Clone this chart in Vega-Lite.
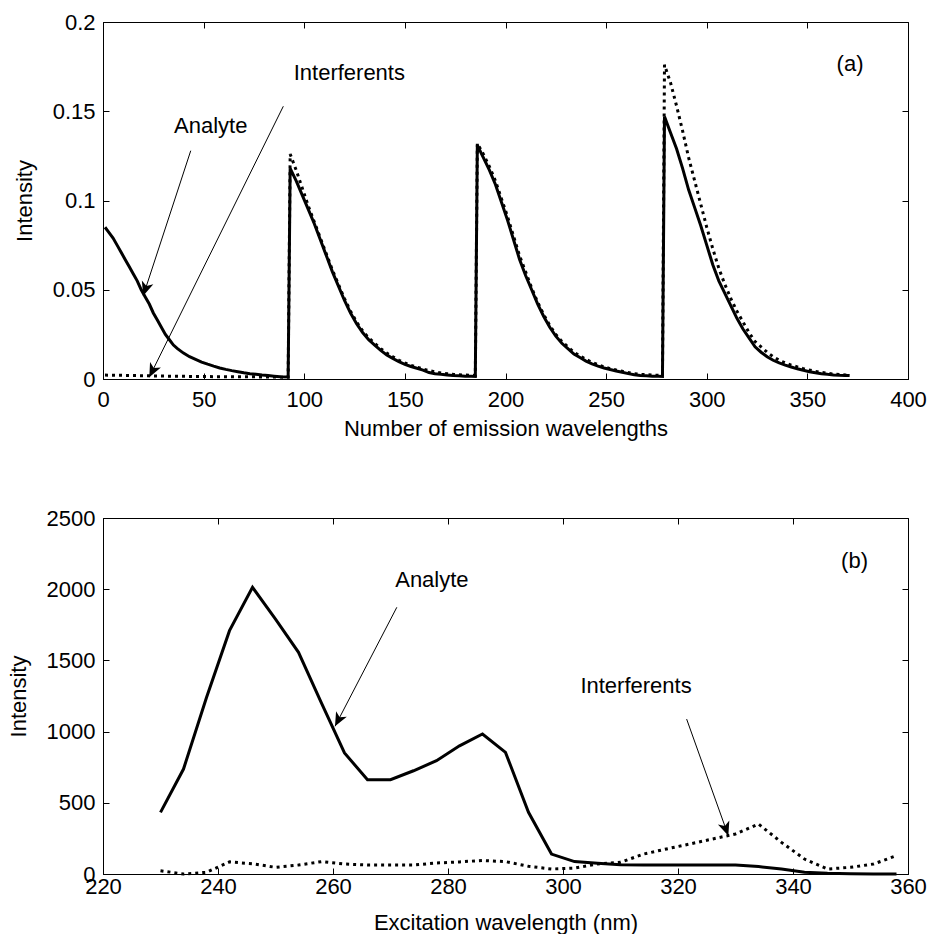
{
  "$schema": "https://vega.github.io/schema/vega-lite/v6.json",
  "padding": {"left": 6, "top": 10, "right": 5, "bottom": 0},
  "background": "white",
  "config": {
    "font": "Liberation Sans",
    "view": {"stroke": "black", "strokeWidth": 1},
    "axis": {
      "grid": false, "domainColor": "black", "domainWidth": 1, "tickColor": "black", "tickSize": -6, "tickWidth": 1,
      "labelFont": "Liberation Sans", "labelFontSize": 22, "labelColor": "black",
      "titleFont": "Liberation Sans", "titleFontSize": 22, "titleFontWeight": "normal", "titleColor": "black",
      "labelOverlap": false
    }
  },
  "datasets": {
    "a": [
      {"n":1,"v":0.085,"s":"Analyte"},{"n":3,"v":0.082,"s":"Analyte"},{"n":5,"v":0.079,"s":"Analyte"},{"n":7,"v":0.075,"s":"Analyte"},{"n":9,"v":0.071,"s":"Analyte"},{"n":11,"v":0.067,"s":"Analyte"},{"n":13,"v":0.063,"s":"Analyte"},{"n":15,"v":0.059,"s":"Analyte"},{"n":17,"v":0.055,"s":"Analyte"},{"n":19,"v":0.05,"s":"Analyte"},{"n":21,"v":0.046,"s":"Analyte"},{"n":23,"v":0.042,"s":"Analyte"},{"n":25,"v":0.037,"s":"Analyte"},{"n":27,"v":0.033,"s":"Analyte"},{"n":29,"v":0.029,"s":"Analyte"},{"n":31,"v":0.025,"s":"Analyte"},{"n":33,"v":0.022,"s":"Analyte"},{"n":35,"v":0.019,"s":"Analyte"},{"n":37,"v":0.017,"s":"Analyte"},{"n":40,"v":0.0145,"s":"Analyte"},{"n":43,"v":0.0125,"s":"Analyte"},{"n":46,"v":0.011,"s":"Analyte"},{"n":49,"v":0.0095,"s":"Analyte"},{"n":52,"v":0.0083,"s":"Analyte"},{"n":55,"v":0.0072,"s":"Analyte"},{"n":58,"v":0.0062,"s":"Analyte"},{"n":61,"v":0.0054,"s":"Analyte"},{"n":64,"v":0.0047,"s":"Analyte"},{"n":67,"v":0.0041,"s":"Analyte"},{"n":70,"v":0.0035,"s":"Analyte"},{"n":73,"v":0.003,"s":"Analyte"},{"n":76,"v":0.0026,"s":"Analyte"},{"n":79,"v":0.0022,"s":"Analyte"},{"n":82,"v":0.0019,"s":"Analyte"},{"n":85,"v":0.0016,"s":"Analyte"},{"n":88,"v":0.0013,"s":"Analyte"},{"n":92,"v":0.0011,"s":"Analyte"},
      {"n":93,"v":0.118,"s":"Analyte"},{"n":96,"v":0.111,"s":"Analyte"},{"n":99,"v":0.103,"s":"Analyte"},{"n":102,"v":0.095,"s":"Analyte"},{"n":105,"v":0.087,"s":"Analyte"},{"n":108,"v":0.078,"s":"Analyte"},{"n":111,"v":0.069,"s":"Analyte"},{"n":114,"v":0.06,"s":"Analyte"},{"n":117,"v":0.052,"s":"Analyte"},{"n":120,"v":0.044,"s":"Analyte"},{"n":123,"v":0.037,"s":"Analyte"},{"n":126,"v":0.031,"s":"Analyte"},{"n":129,"v":0.026,"s":"Analyte"},{"n":132,"v":0.022,"s":"Analyte"},{"n":135,"v":0.019,"s":"Analyte"},{"n":138,"v":0.016,"s":"Analyte"},{"n":141,"v":0.0135,"s":"Analyte"},{"n":144,"v":0.0115,"s":"Analyte"},{"n":147,"v":0.0097,"s":"Analyte"},{"n":150,"v":0.0082,"s":"Analyte"},{"n":153,"v":0.007,"s":"Analyte"},{"n":156,"v":0.006,"s":"Analyte"},{"n":159,"v":0.005,"s":"Analyte"},{"n":162,"v":0.0036,"s":"Analyte"},{"n":165,"v":0.003,"s":"Analyte"},{"n":168,"v":0.0026,"s":"Analyte"},{"n":171,"v":0.0023,"s":"Analyte"},{"n":174,"v":0.002,"s":"Analyte"},{"n":177,"v":0.0018,"s":"Analyte"},{"n":180,"v":0.0016,"s":"Analyte"},{"n":183,"v":0.0015,"s":"Analyte"},{"n":185,"v":0.0014,"s":"Analyte"},
      {"n":186,"v":0.131,"s":"Analyte"},{"n":189,"v":0.124,"s":"Analyte"},{"n":192,"v":0.117,"s":"Analyte"},{"n":195,"v":0.109,"s":"Analyte"},{"n":198,"v":0.099,"s":"Analyte"},{"n":201,"v":0.089,"s":"Analyte"},{"n":204,"v":0.078,"s":"Analyte"},{"n":207,"v":0.067,"s":"Analyte"},{"n":210,"v":0.058,"s":"Analyte"},{"n":213,"v":0.05,"s":"Analyte"},{"n":216,"v":0.042,"s":"Analyte"},{"n":219,"v":0.035,"s":"Analyte"},{"n":222,"v":0.029,"s":"Analyte"},{"n":225,"v":0.024,"s":"Analyte"},{"n":228,"v":0.02,"s":"Analyte"},{"n":231,"v":0.017,"s":"Analyte"},{"n":234,"v":0.014,"s":"Analyte"},{"n":237,"v":0.012,"s":"Analyte"},{"n":240,"v":0.01,"s":"Analyte"},{"n":243,"v":0.0085,"s":"Analyte"},{"n":246,"v":0.0072,"s":"Analyte"},{"n":249,"v":0.0062,"s":"Analyte"},{"n":252,"v":0.0053,"s":"Analyte"},{"n":255,"v":0.0045,"s":"Analyte"},{"n":258,"v":0.0038,"s":"Analyte"},{"n":261,"v":0.003,"s":"Analyte"},{"n":264,"v":0.0024,"s":"Analyte"},{"n":267,"v":0.002,"s":"Analyte"},{"n":270,"v":0.0018,"s":"Analyte"},{"n":273,"v":0.0016,"s":"Analyte"},{"n":276,"v":0.0015,"s":"Analyte"},{"n":278,"v":0.0014,"s":"Analyte"},
      {"n":279,"v":0.147,"s":"Analyte"},{"n":282,"v":0.138,"s":"Analyte"},{"n":285,"v":0.129,"s":"Analyte"},{"n":288,"v":0.118,"s":"Analyte"},{"n":291,"v":0.106,"s":"Analyte"},{"n":294,"v":0.096,"s":"Analyte"},{"n":297,"v":0.086,"s":"Analyte"},{"n":300,"v":0.075,"s":"Analyte"},{"n":303,"v":0.064,"s":"Analyte"},{"n":306,"v":0.055,"s":"Analyte"},{"n":309,"v":0.048,"s":"Analyte"},{"n":312,"v":0.041,"s":"Analyte"},{"n":315,"v":0.034,"s":"Analyte"},{"n":318,"v":0.028,"s":"Analyte"},{"n":321,"v":0.023,"s":"Analyte"},{"n":324,"v":0.018,"s":"Analyte"},{"n":327,"v":0.015,"s":"Analyte"},{"n":330,"v":0.0125,"s":"Analyte"},{"n":333,"v":0.0105,"s":"Analyte"},{"n":336,"v":0.009,"s":"Analyte"},{"n":339,"v":0.0078,"s":"Analyte"},{"n":342,"v":0.0067,"s":"Analyte"},{"n":345,"v":0.0057,"s":"Analyte"},{"n":348,"v":0.0049,"s":"Analyte"},{"n":351,"v":0.0041,"s":"Analyte"},{"n":354,"v":0.0035,"s":"Analyte"},{"n":357,"v":0.003,"s":"Analyte"},{"n":360,"v":0.0026,"s":"Analyte"},{"n":363,"v":0.0023,"s":"Analyte"},{"n":366,"v":0.0021,"s":"Analyte"},{"n":369,"v":0.002,"s":"Analyte"},{"n":371,"v":0.0019,"s":"Analyte"},
      {"n":1,"v":0.0022,"s":"Interferents"},{"n":6,"v":0.0021,"s":"Interferents"},{"n":11,"v":0.002,"s":"Interferents"},{"n":16,"v":0.0019,"s":"Interferents"},{"n":21,"v":0.0018,"s":"Interferents"},{"n":26,"v":0.0017,"s":"Interferents"},{"n":31,"v":0.0016,"s":"Interferents"},{"n":36,"v":0.0015,"s":"Interferents"},{"n":41,"v":0.0015,"s":"Interferents"},{"n":46,"v":0.0014,"s":"Interferents"},{"n":51,"v":0.0014,"s":"Interferents"},{"n":56,"v":0.0013,"s":"Interferents"},{"n":61,"v":0.0013,"s":"Interferents"},{"n":66,"v":0.0012,"s":"Interferents"},{"n":71,"v":0.0012,"s":"Interferents"},{"n":76,"v":0.0012,"s":"Interferents"},{"n":81,"v":0.0011,"s":"Interferents"},{"n":86,"v":0.0011,"s":"Interferents"},{"n":92,"v":0.001,"s":"Interferents"},
      {"n":93,"v":0.126,"s":"Interferents"},{"n":96,"v":0.117,"s":"Interferents"},{"n":99,"v":0.107,"s":"Interferents"},{"n":102,"v":0.097,"s":"Interferents"},{"n":105,"v":0.088,"s":"Interferents"},{"n":108,"v":0.079,"s":"Interferents"},{"n":111,"v":0.07,"s":"Interferents"},{"n":114,"v":0.061,"s":"Interferents"},{"n":117,"v":0.053,"s":"Interferents"},{"n":120,"v":0.045,"s":"Interferents"},{"n":123,"v":0.038,"s":"Interferents"},{"n":126,"v":0.032,"s":"Interferents"},{"n":129,"v":0.027,"s":"Interferents"},{"n":132,"v":0.023,"s":"Interferents"},{"n":135,"v":0.02,"s":"Interferents"},{"n":138,"v":0.017,"s":"Interferents"},{"n":141,"v":0.0145,"s":"Interferents"},{"n":144,"v":0.0125,"s":"Interferents"},{"n":147,"v":0.0105,"s":"Interferents"},{"n":150,"v":0.009,"s":"Interferents"},{"n":153,"v":0.0077,"s":"Interferents"},{"n":156,"v":0.0066,"s":"Interferents"},{"n":159,"v":0.0056,"s":"Interferents"},{"n":162,"v":0.0047,"s":"Interferents"},{"n":165,"v":0.004,"s":"Interferents"},{"n":168,"v":0.0034,"s":"Interferents"},{"n":171,"v":0.003,"s":"Interferents"},{"n":174,"v":0.0026,"s":"Interferents"},{"n":177,"v":0.0024,"s":"Interferents"},{"n":180,"v":0.0022,"s":"Interferents"},{"n":183,"v":0.0021,"s":"Interferents"},{"n":185,"v":0.002,"s":"Interferents"},
      {"n":186,"v":0.132,"s":"Interferents"},{"n":189,"v":0.126,"s":"Interferents"},{"n":192,"v":0.119,"s":"Interferents"},{"n":195,"v":0.111,"s":"Interferents"},{"n":198,"v":0.101,"s":"Interferents"},{"n":201,"v":0.091,"s":"Interferents"},{"n":204,"v":0.08,"s":"Interferents"},{"n":207,"v":0.069,"s":"Interferents"},{"n":210,"v":0.06,"s":"Interferents"},{"n":213,"v":0.051,"s":"Interferents"},{"n":216,"v":0.043,"s":"Interferents"},{"n":219,"v":0.036,"s":"Interferents"},{"n":222,"v":0.03,"s":"Interferents"},{"n":225,"v":0.025,"s":"Interferents"},{"n":228,"v":0.021,"s":"Interferents"},{"n":231,"v":0.018,"s":"Interferents"},{"n":234,"v":0.015,"s":"Interferents"},{"n":237,"v":0.013,"s":"Interferents"},{"n":240,"v":0.011,"s":"Interferents"},{"n":243,"v":0.0093,"s":"Interferents"},{"n":246,"v":0.008,"s":"Interferents"},{"n":249,"v":0.0068,"s":"Interferents"},{"n":252,"v":0.0058,"s":"Interferents"},{"n":255,"v":0.005,"s":"Interferents"},{"n":258,"v":0.0043,"s":"Interferents"},{"n":261,"v":0.0036,"s":"Interferents"},{"n":264,"v":0.003,"s":"Interferents"},{"n":267,"v":0.0026,"s":"Interferents"},{"n":270,"v":0.0024,"s":"Interferents"},{"n":273,"v":0.0022,"s":"Interferents"},{"n":276,"v":0.0021,"s":"Interferents"},{"n":278,"v":0.002,"s":"Interferents"},
      {"n":279,"v":0.176,"s":"Interferents"},{"n":282,"v":0.166,"s":"Interferents"},{"n":285,"v":0.153,"s":"Interferents"},{"n":288,"v":0.139,"s":"Interferents"},{"n":291,"v":0.124,"s":"Interferents"},{"n":294,"v":0.111,"s":"Interferents"},{"n":297,"v":0.098,"s":"Interferents"},{"n":300,"v":0.085,"s":"Interferents"},{"n":303,"v":0.073,"s":"Interferents"},{"n":306,"v":0.062,"s":"Interferents"},{"n":309,"v":0.053,"s":"Interferents"},{"n":312,"v":0.045,"s":"Interferents"},{"n":315,"v":0.038,"s":"Interferents"},{"n":318,"v":0.032,"s":"Interferents"},{"n":321,"v":0.026,"s":"Interferents"},{"n":324,"v":0.021,"s":"Interferents"},{"n":327,"v":0.018,"s":"Interferents"},{"n":330,"v":0.015,"s":"Interferents"},{"n":333,"v":0.0125,"s":"Interferents"},{"n":336,"v":0.0105,"s":"Interferents"},{"n":339,"v":0.009,"s":"Interferents"},{"n":342,"v":0.0078,"s":"Interferents"},{"n":345,"v":0.0068,"s":"Interferents"},{"n":348,"v":0.0058,"s":"Interferents"},{"n":351,"v":0.005,"s":"Interferents"},{"n":354,"v":0.0043,"s":"Interferents"},{"n":357,"v":0.0037,"s":"Interferents"},{"n":360,"v":0.0032,"s":"Interferents"},{"n":363,"v":0.0028,"s":"Interferents"},{"n":366,"v":0.0025,"s":"Interferents"},{"n":369,"v":0.0023,"s":"Interferents"},{"n":371,"v":0.0023,"s":"Interferents"}
    ],
    "b": [
      {"w":230,"v":433,"s":"Analyte"},{"w":234,"v":737,"s":"Analyte"},{"w":238,"v":1240,"s":"Analyte"},{"w":242,"v":1709,"s":"Analyte"},{"w":246,"v":2013,"s":"Analyte"},{"w":250,"v":1790,"s":"Analyte"},{"w":254,"v":1557,"s":"Analyte"},{"w":258,"v":1200,"s":"Analyte"},{"w":262,"v":850,"s":"Analyte"},{"w":266,"v":662,"s":"Analyte"},{"w":270,"v":662,"s":"Analyte"},{"w":274,"v":725,"s":"Analyte"},{"w":278,"v":796,"s":"Analyte"},{"w":282,"v":900,"s":"Analyte"},{"w":286,"v":983,"s":"Analyte"},{"w":290,"v":854,"s":"Analyte"},{"w":294,"v":433,"s":"Analyte"},{"w":298,"v":140,"s":"Analyte"},{"w":302,"v":87,"s":"Analyte"},{"w":306,"v":75,"s":"Analyte"},{"w":310,"v":65,"s":"Analyte"},{"w":314,"v":63,"s":"Analyte"},{"w":318,"v":63,"s":"Analyte"},{"w":322,"v":63,"s":"Analyte"},{"w":326,"v":63,"s":"Analyte"},{"w":330,"v":63,"s":"Analyte"},{"w":334,"v":52,"s":"Analyte"},{"w":338,"v":35,"s":"Analyte"},{"w":342,"v":12,"s":"Analyte"},{"w":346,"v":5,"s":"Analyte"},{"w":350,"v":2,"s":"Analyte"},{"w":354,"v":0,"s":"Analyte"},{"w":358,"v":0,"s":"Analyte"},
      {"w":230,"v":23,"s":"Interferents"},{"w":234,"v":0,"s":"Interferents"},{"w":238,"v":12,"s":"Interferents"},{"w":242,"v":85,"s":"Interferents"},{"w":246,"v":72,"s":"Interferents"},{"w":250,"v":47,"s":"Interferents"},{"w":254,"v":63,"s":"Interferents"},{"w":258,"v":87,"s":"Interferents"},{"w":262,"v":70,"s":"Interferents"},{"w":266,"v":63,"s":"Interferents"},{"w":270,"v":63,"s":"Interferents"},{"w":274,"v":63,"s":"Interferents"},{"w":278,"v":77,"s":"Interferents"},{"w":282,"v":85,"s":"Interferents"},{"w":286,"v":95,"s":"Interferents"},{"w":290,"v":87,"s":"Interferents"},{"w":294,"v":54,"s":"Interferents"},{"w":298,"v":35,"s":"Interferents"},{"w":302,"v":41,"s":"Interferents"},{"w":306,"v":70,"s":"Interferents"},{"w":310,"v":82,"s":"Interferents"},{"w":314,"v":140,"s":"Interferents"},{"w":318,"v":176,"s":"Interferents"},{"w":322,"v":210,"s":"Interferents"},{"w":326,"v":246,"s":"Interferents"},{"w":330,"v":281,"s":"Interferents"},{"w":334,"v":351,"s":"Interferents"},{"w":338,"v":222,"s":"Interferents"},{"w":342,"v":105,"s":"Interferents"},{"w":346,"v":35,"s":"Interferents"},{"w":350,"v":47,"s":"Interferents"},{"w":354,"v":70,"s":"Interferents"},{"w":358,"v":129,"s":"Interferents"}
    ],
    "annA": [
      {"kind":"text","label":"Analyte","x":53.5,"y":0.142},
      {"kind":"text","label":"Interferents","x":122.4,"y":0.1715},
      {"kind":"text","label":"(a)","x":371.2,"y":0.1765},
      {"kind":"arrow","label":"Analyte","x":43.6,"y":0.1279,"x2":20.0,"y2":0.0467},
      {"kind":"arrow","label":"Interferents","x":89.6,"y":0.1528,"x2":23.0,"y2":0.001}
    ],
    "annB": [
      {"kind":"text","label":"Analyte","x":277.2,"y":2062},
      {"kind":"text","label":"Interferents","x":312.7,"y":1317},
      {"kind":"text","label":"(b)","x":350.7,"y":2199},
      {"kind":"arrow","label":"Analyte","x":271.1,"y":1873,"x2":260.35,"y2":1037},
      {"kind":"arrow","label":"Interferents","x":321.5,"y":1088,"x2":328.75,"y2":269}
    ]
  },
  "spacing": 139,
  "bounds": "flush",
  "vconcat": [
    {
      "width": 805, "height": 357,
      "layer": [
        {
          "data": {"name": "a"},
          "transform": [{"filter": "datum.s === 'Analyte'"}],
          "mark": {"type": "line", "color": "black", "strokeWidth": 3},
          "encoding": {
            "x": {"field": "n", "type": "quantitative", "scale": {"domain": [0, 400], "nice": false, "zero": false},
                  "axis": {"orient": "bottom", "values": [0,50,100,150,200,250,300,350,400], "title": "Number of emission wavelengths", "labelFlush": false, "labelPadding": 16, "titlePadding": 8}},
            "y": {"field": "v", "type": "quantitative", "scale": {"domain": [0, 0.2], "nice": false},
                  "axis": {"orient": "left", "values": [0,0.05,0.1,0.15,0.2], "format": "~g", "title": "Intensity", "labelPadding": 14, "titlePadding": 16}}
          }
        },
        {
          "data": {"name": "a"},
          "transform": [{"filter": "datum.s === 'Interferents'"}],
          "mark": {"type": "line", "color": "black", "strokeWidth": 3, "strokeDash": [3, 4]},
          "encoding": {
            "x": {"field": "n", "type": "quantitative", "scale": {"domain": [0, 400], "nice": false, "zero": false},
                  "axis": {"orient": "top", "values": [0,50,100,150,200,250,300,350,400], "labels": false, "title": null, "domain": false}},
            "y": {"field": "v", "type": "quantitative", "scale": {"domain": [0, 0.2], "nice": false},
                  "axis": {"orient": "right", "values": [0,0.05,0.1,0.15,0.2], "labels": false, "title": null, "domain": false}}
          }
        },
        {
          "data": {"name": "annA"},
          "transform": [{"filter": "datum.kind === 'arrow'"}],
          "mark": {"type": "rule", "color": "black", "strokeWidth": 1},
          "encoding": {
            "x": {"field": "x", "type": "quantitative", "scale": {"domain": [0, 400], "nice": false, "zero": false}, "axis": null},
            "y": {"field": "y", "type": "quantitative", "scale": {"domain": [0, 0.2], "nice": false}, "axis": null},
            "x2": {"field": "x2"},
            "y2": {"field": "y2"}
          }
        },
        {
          "data": {"name": "annA"},
          "transform": [{"filter": "datum.kind === 'arrow' && datum.label === 'Analyte'"}],
          "mark": {"type": "point", "shape": "M0,0L0.65,1.5L0,1.1L-0.65,1.5Z", "size": 346, "angle": 198.1, "filled": true, "color": "black", "opacity": 1},
          "encoding": {
            "x": {"field": "x2", "type": "quantitative", "scale": {"domain": [0, 400], "nice": false, "zero": false}, "axis": null},
            "y": {"field": "y2", "type": "quantitative", "scale": {"domain": [0, 0.2], "nice": false}, "axis": null}
          }
        },
        {
          "data": {"name": "annA"},
          "transform": [{"filter": "datum.kind === 'arrow' && datum.label === 'Interferents'"}],
          "mark": {"type": "point", "shape": "M0,0L0.65,1.5L0,1.1L-0.65,1.5Z", "size": 346, "angle": 206.3, "filled": true, "color": "black", "opacity": 1},
          "encoding": {
            "x": {"field": "x2", "type": "quantitative", "scale": {"domain": [0, 400], "nice": false, "zero": false}, "axis": null},
            "y": {"field": "y2", "type": "quantitative", "scale": {"domain": [0, 0.2], "nice": false}, "axis": null}
          }
        },
        {
          "data": {"name": "annA"},
          "transform": [{"filter": "datum.kind === 'text'"}],
          "mark": {"type": "text", "font": "Liberation Sans", "fontSize": 22, "align": "center", "baseline": "middle", "color": "black"},
          "encoding": {
            "x": {"field": "x", "type": "quantitative", "scale": {"domain": [0, 400], "nice": false, "zero": false}, "axis": null},
            "y": {"field": "y", "type": "quantitative", "scale": {"domain": [0, 0.2], "nice": false}, "axis": null},
            "text": {"field": "label"}
          }
        }
      ],
      "resolve": {"axis": {"x": "independent", "y": "independent"}}
    },
    {
      "width": 805, "height": 356,
      "layer": [
        {
          "data": {"name": "b"},
          "transform": [{"filter": "datum.s === 'Analyte'"}],
          "mark": {"type": "line", "color": "black", "strokeWidth": 3},
          "encoding": {
            "x": {"field": "w", "type": "quantitative", "scale": {"domain": [220, 360], "nice": false, "zero": false},
                  "axis": {"orient": "bottom", "values": [220,240,260,280,300,320,340,360], "title": "Excitation wavelength (nm)", "labelFlush": false, "labelPadding": 8, "titlePadding": 15}},
            "y": {"field": "v", "type": "quantitative", "scale": {"domain": [0, 2500], "nice": false},
                  "axis": {"orient": "left", "values": [0,500,1000,1500,2000,2500], "format": "d", "title": "Intensity", "labelPadding": 14, "titlePadding": 16}}
          }
        },
        {
          "data": {"name": "b"},
          "transform": [{"filter": "datum.s === 'Interferents'"}],
          "mark": {"type": "line", "color": "black", "strokeWidth": 3, "strokeDash": [3, 4]},
          "encoding": {
            "x": {"field": "w", "type": "quantitative", "scale": {"domain": [220, 360], "nice": false, "zero": false},
                  "axis": {"orient": "top", "values": [220,240,260,280,300,320,340,360], "labels": false, "title": null, "domain": false}},
            "y": {"field": "v", "type": "quantitative", "scale": {"domain": [0, 2500], "nice": false},
                  "axis": {"orient": "right", "values": [0,500,1000,1500,2000,2500], "labels": false, "title": null, "domain": false}}
          }
        },
        {
          "data": {"name": "annB"},
          "transform": [{"filter": "datum.kind === 'arrow'"}],
          "mark": {"type": "rule", "color": "black", "strokeWidth": 1},
          "encoding": {
            "x": {"field": "x", "type": "quantitative", "scale": {"domain": [220, 360], "nice": false, "zero": false}, "axis": null},
            "y": {"field": "y", "type": "quantitative", "scale": {"domain": [0, 2500], "nice": false}, "axis": null},
            "x2": {"field": "x2"},
            "y2": {"field": "y2"}
          }
        },
        {
          "data": {"name": "annB"},
          "transform": [{"filter": "datum.kind === 'arrow' && datum.label === 'Analyte'"}],
          "mark": {"type": "point", "shape": "M0,0L0.65,1.5L0,1.1L-0.65,1.5Z", "size": 346, "angle": 207.4, "filled": true, "color": "black", "opacity": 1},
          "encoding": {
            "x": {"field": "x2", "type": "quantitative", "scale": {"domain": [220, 360], "nice": false, "zero": false}, "axis": null},
            "y": {"field": "y2", "type": "quantitative", "scale": {"domain": [0, 2500], "nice": false}, "axis": null}
          }
        },
        {
          "data": {"name": "annB"},
          "transform": [{"filter": "datum.kind === 'arrow' && datum.label === 'Interferents'"}],
          "mark": {"type": "point", "shape": "M0,0L0.65,1.5L0,1.1L-0.65,1.5Z", "size": 346, "angle": 160.4, "filled": true, "color": "black", "opacity": 1},
          "encoding": {
            "x": {"field": "x2", "type": "quantitative", "scale": {"domain": [220, 360], "nice": false, "zero": false}, "axis": null},
            "y": {"field": "y2", "type": "quantitative", "scale": {"domain": [0, 2500], "nice": false}, "axis": null}
          }
        },
        {
          "data": {"name": "annB"},
          "transform": [{"filter": "datum.kind === 'text'"}],
          "mark": {"type": "text", "font": "Liberation Sans", "fontSize": 22, "align": "center", "baseline": "middle", "color": "black"},
          "encoding": {
            "x": {"field": "x", "type": "quantitative", "scale": {"domain": [220, 360], "nice": false, "zero": false}, "axis": null},
            "y": {"field": "y", "type": "quantitative", "scale": {"domain": [0, 2500], "nice": false}, "axis": null},
            "text": {"field": "label"}
          }
        }
      ],
      "resolve": {"axis": {"x": "independent", "y": "independent"}}
    }
  ]
}
